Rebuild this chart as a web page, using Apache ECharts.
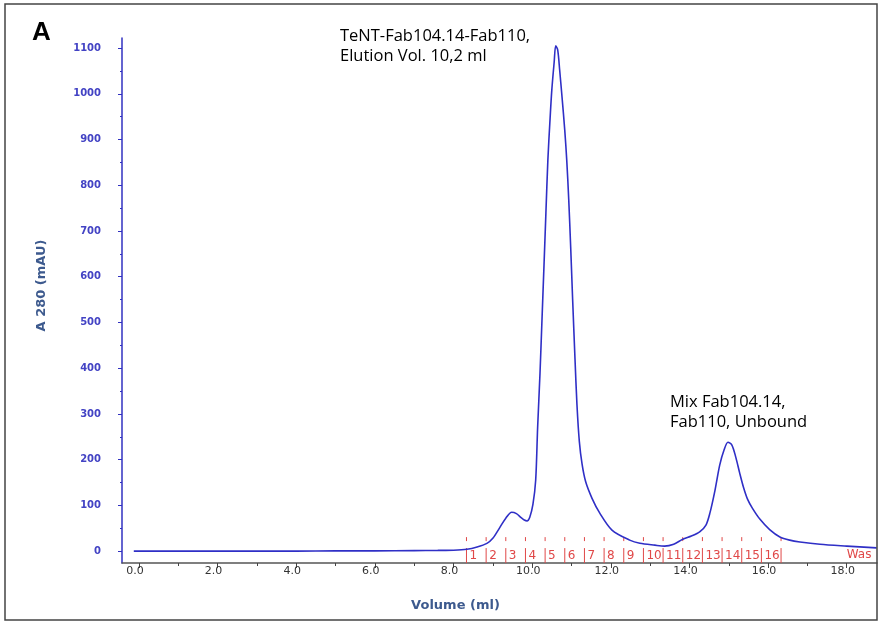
<!DOCTYPE html>
<html>
<head>
<meta charset="utf-8">
<script src="https://cdn.jsdelivr.net/npm/echarts@6/dist/echarts.min.js"></script>
<style>
  html, body { margin: 0; padding: 0; background: #fff; }
  #chart { width: 880px; height: 623px; }
</style>
</head>
<body>
<div id="chart"></div>
<script>
  // elution volume (ml) and absorbance A280 (mAU)
  const volume = [
    -0.13, 1.0, 2.0, 3.0, 4.0, 5.0, 6.0, 7.0, 7.6, 8.0, 8.34, 8.6, 8.85, 9.0, 9.18, 9.33, 9.48, 9.6,
    9.72, 9.8, 9.87, 9.94, 10.02, 10.09, 10.14, 10.2, 10.25, 10.3, 10.35, 10.4, 10.45, 10.5, 10.56,
    10.6, 10.65, 10.7, 10.76, 10.83, 10.88, 10.93, 10.98, 11.03, 11.09, 11.14, 11.2, 11.27, 11.36, 11.52,
    11.72, 12.03, 12.48, 12.74, 13.12, 13.37, 13.6, 13.83, 14.05, 14.26, 14.42, 14.52, 14.65, 14.77,
    14.88, 14.98, 15.08, 15.18, 15.28, 15.38, 15.48, 15.6, 15.79, 16.04, 16.3, 16.55, 16.81, 17.32, 18.0, 18.76
  ]
  const absorbance = [
    0, 0, 0, 0, 0, 0.5, 0.5, 1, 1.5, 2, 4, 9, 17, 28, 52, 72, 85, 82,
    73, 68, 66, 74, 102, 155, 271, 389, 505, 621, 739, 855, 936, 1008, 1069,
    1105, 1096, 1052, 993, 920, 855, 770, 665, 550, 420, 320, 240, 190, 152, 116,
    83, 46, 24, 17, 13, 11, 15, 26, 33, 42, 57, 83, 133, 188,
    221, 238, 232, 205, 170, 138, 113, 94, 70, 47, 31, 24, 20, 15, 11, 7
  ]
  // fraction collector marks
  const fractionStart = [8.33, 8.83, 9.33, 9.83, 10.33, 10.83, 11.33, 11.83, 12.33, 12.83, 13.33, 13.83, 14.33, 14.83, 15.33, 15.83, 16.33]
  const fractionLabels = ['1', '2', '3', '4', '5', '6', '7', '8', '9', '10', '11', '12', '13', '14', '15', '16', '']
  const wastePos = 18.0
  // axis ticks
  const yTicks = [0, 100, 200, 300, 400, 500, 600, 700, 800, 900, 1000, 1100]
  const yMinorTicks = [50, 150, 250, 350, 450, 550, 650, 750, 850, 950, 1050]
  const xTicks = [0, 2, 4, 6, 8, 10, 12, 14, 16, 18]
  const xMinorTicks = [1, 3, 5, 7, 9, 11, 13, 15, 17]

  const trace = volume.map((v, i) => [v, absorbance[i]])
  const fracRed = '#e04848'

  const yRange = { min: -26, max: 1122 }
  const xRange = { min: -0.43, max: 18.77 }

  const options = {
    animation: false,
    backgroundColor: '#fff',
    grid: { left: 122, right: 3, top: 38, bottom: 60 },
    xAxis: [
      {
        type: 'value',
        ...xRange,
        name: 'Volume (ml)',
        nameLocation: 'middle',
        nameGap: 36,
        nameTextStyle: { color: '#3d5a8e', fontSize: 13, fontWeight: 'bold', fontFamily: 'DejaVu Sans', padding: [0, 88, 0, 0] },
        axisLine: { onZero: false, lineStyle: { color: '#555', width: 1.5 } },
        axisTick: { length: 5, customValues: xTicks, lineStyle: { color: '#444' } },
        axisLabel: {
          customValues: xTicks,
          formatter: (v) => v.toFixed(1),
          color: '#333',
          fontSize: 11,
          fontFamily: 'DejaVu Sans',
          margin: 3,
          padding: [0, 8, 0, 0],
        },
        splitLine: { show: false },
      },
      {
        type: 'value',
        ...xRange,
        position: 'bottom',
        axisLine: { show: false, onZero: false },
        axisTick: { length: 3, customValues: xMinorTicks, lineStyle: { color: '#444' } },
        axisLabel: { show: false },
        splitLine: { show: false },
      },
    ],
    yAxis: [
      {
        type: 'value',
        ...yRange,
        name: 'A 280 (mAU)',
        nameLocation: 'middle',
        nameGap: 74,
        nameTextStyle: { color: '#3d5a8e', fontSize: 13, fontWeight: 'bold', fontFamily: 'DejaVu Sans', padding: [0, 0, 0, 30] },
        axisLine: { show: true, onZero: false, lineStyle: { color: '#3030c0', width: 1.5 } },
        axisTick: { show: true, length: 4, customValues: yTicks, lineStyle: { color: '#3030c0' } },
        axisLabel: {
          customValues: yTicks,
          formatter: (v) => String(v),
          color: '#4343c4',
          fontSize: 10,
          fontWeight: 'bold',
          fontFamily: 'DejaVu Sans',
          margin: 21,
        },
        splitLine: { show: false },
      },
      {
        type: 'value',
        ...yRange,
        position: 'left',
        axisLine: { show: false, onZero: false },
        axisTick: { show: true, length: 2, customValues: yMinorTicks, lineStyle: { color: '#3030c0' } },
        axisLabel: { show: false },
        splitLine: { show: false },
      },
    ],
    series: [
      {
        type: 'custom',
        name: 'fractions',
        silent: true,
        data: fractionStart.map((v) => [v]),
        renderItem: (params, api) => {
          const x = api.value(0)
          const top = api.coord([x, 30.6])
          const mid = api.coord([x, 21.9])
          const low = api.coord([x, 6.6])
          const base = api.coord([x, yRange.min])
          const lineStyle = { stroke: fracRed, lineWidth: 1 }
          return {
            type: 'group',
            children: [
              { type: 'line', shape: { x1: top[0], y1: top[1], x2: mid[0], y2: mid[1] }, style: lineStyle },
              { type: 'line', shape: { x1: low[0], y1: low[1], x2: base[0], y2: base[1] }, style: lineStyle },
              {
                type: 'text',
                x: low[0] + 3,
                y: (low[1] + base[1]) / 2,
                style: {
                  text: fractionLabels[params.dataIndex],
                  fill: fracRed,
                  font: '12px "DejaVu Sans"',
                  align: 'left',
                  verticalAlign: 'middle',
                },
              },
            ],
          }
        },
        z: 1,
      },
      {
        type: 'custom',
        name: 'waste',
        silent: true,
        data: [[wastePos]],
        renderItem: (params, api) => {
          const p = api.coord([api.value(0), -9])
          return {
            type: 'text',
            x: p[0],
            y: p[1],
            style: { text: 'Was', fill: fracRed, font: '12px "DejaVu Sans"', align: 'left', verticalAlign: 'middle' },
          }
        },
        z: 1,
      },
      {
        type: 'line',
        name: 'A280',
        data: trace,
        showSymbol: false,
        smooth: 0.3,
        lineStyle: { color: '#2f2fc6', width: 1.6 },
        z: 3,
      },
    ],
    graphic: [
      { type: 'rect', shape: { x: 5, y: 4, width: 872, height: 616 }, style: { fill: null, stroke: '#444', lineWidth: 1.5 }, z: 10 },
      { type: 'text', left: 32, top: 20, style: { text: 'A', font: 'bold 26px "Liberation Sans"', fill: '#000' } },
      {
        type: 'text',
        left: 340,
        top: 26,
        style: { text: 'TeNT-Fab104.14-Fab110,\nElution Vol. 10,2 ml', font: '16.5px "Open Sans"', lineHeight: 20, fill: '#000' },
      },
      {
        type: 'text',
        left: 670,
        top: 392,
        style: { text: 'Mix Fab104.14,\nFab110, Unbound', font: '16.5px "Open Sans"', lineHeight: 20, fill: '#000', align: 'center' },
      },
    ],
  }

  const chart = echarts.init(document.getElementById('chart'))
  chart.setOption(options)
</script>
</body>
</html>
